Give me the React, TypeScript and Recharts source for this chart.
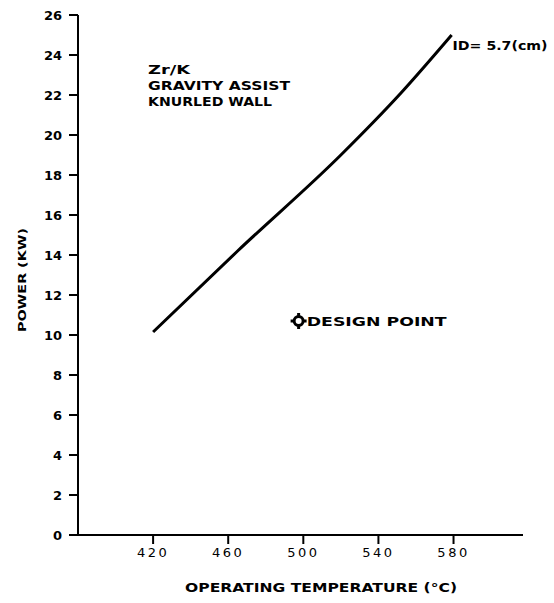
import {
  ComposedChart,
  Line,
  Scatter,
  XAxis,
  YAxis,
  ReferenceDot,
  Label,
} from "recharts";

const temps = [420, 465, 520, 552, 579];
const powers = [10.15, 14.2, 19.0, 22.1, 25.0];
const designTemp = [497.5];
const designPower = [10.7];
const xTicks = [420, 460, 500, 540, 580];
const yTicks = [0, 2, 4, 6, 8, 10, 12, 14, 16, 18, 20, 22, 24, 26];

const curve = temps.map((t, i) => ({ t, p: powers[i] }));
const design = designTemp.map((t, i) => ({ t, p: designPower[i] }));

const FONT = "'DejaVu Sans', sans-serif";

const DesignMarker = (props: any) => {
  const { cx, cy } = props;
  if (cx == null || cy == null) return null;
  return (
    <g stroke="#000" strokeWidth={3} fill="none">
      <circle cx={cx} cy={cy} r={4.5} fill="#fff" />
      <line x1={cx - 8} y1={cy} x2={cx - 4} y2={cy} />
      <line x1={cx + 4} y1={cy} x2={cx + 8} y2={cy} />
      <line x1={cx} y1={cy - 8} x2={cx} y2={cy - 4} />
      <line x1={cx} y1={cy + 4} x2={cx} y2={cy + 8} />
    </g>
  );
};

const textShape = (lines: string[], widths: number[], size: number) =>
  (props: any) => {
    const { cx, cy } = props;
    if (cx == null || cy == null) return null;
    return (
      <g>
        {lines.map((s, i) => (
          <text
            key={s}
            x={cx}
            y={cy + i * 16}
            fontFamily={FONT}
            fontWeight="bold"
            fontSize={size}
            fill="#000"
            textLength={widths[i]}
            lengthAdjust="spacingAndGlyphs"
            dominantBaseline="central"
          >
            {s}
          </text>
        ))}
      </g>
    );
  };

export default function App() {
  return (
    <div style={{ position: "absolute", left: 0, top: 0, background: "#fff" }}>
      <ComposedChart
        width={554}
        height={603}
        margin={{ top: 15, right: 31, left: 0, bottom: 0 }}
      >
        <XAxis
          dataKey="t"
          type="number"
          domain={[380, 617]}
          ticks={xTicks}
          allowDataOverflow
          height={68}
          stroke="#000"
          strokeWidth={2}
          tickSize={9}
          tickMargin={4}
          tick={{
            fill: "#000",
            fontSize: 13,
            fontFamily: FONT,
            letterSpacing: 2.5,
          }}
        >
          <Label
            content={({ viewBox }: any) => (
              <text
                x={321}
                y={588}
                textAnchor="middle"
                dominantBaseline="central"
                fontFamily={FONT}
                fontWeight="bold"
                fontSize={12}
                textLength={272}
                lengthAdjust="spacingAndGlyphs"
              >
                OPERATING TEMPERATURE (°C)
              </text>
            )}
          />
        </XAxis>
        <YAxis
          dataKey="p"
          type="number"
          domain={[0, 26]}
          ticks={yTicks}
          width={78}
          stroke="#000"
          strokeWidth={2}
          tickSize={9}
          tickMargin={7}
          tick={{
            fill: "#000",
            fontSize: 13,
            fontWeight: "bold",
            fontFamily: FONT,
          }}
        >
          <Label
            content={() => (
              <text
                x={22}
                y={280}
                textAnchor="middle"
                dominantBaseline="central"
                transform="rotate(-90 22 280)"
                fontFamily={FONT}
                fontWeight="bold"
                fontSize={11}
                textLength={104}
                lengthAdjust="spacingAndGlyphs"
              >
                POWER (KW)
              </text>
            )}
          />
        </YAxis>
        <Line
          data={curve}
          dataKey="p"
          type="monotone"
          stroke="#000"
          strokeWidth={3}
          dot={false}
          isAnimationActive={false}
        />
        <Scatter
          data={design}
          dataKey="p"
          shape={DesignMarker}
          isAnimationActive={false}
        />
        <ReferenceDot
          x={417.3}
          y={23.25}
          r={1}
          shape={textShape(
            ["Zr/K", "GRAVITY ASSIST", "KNURLED WALL"],
            [42, 142, 124],
            12
          )}
        />
        <ReferenceDot
          x={579.5}
          y={24.45}
          r={1}
          shape={textShape(["ID= 5.7(cm)"], [95], 12)}
        />
        <ReferenceDot
          x={501.8}
          y={10.65}
          r={1}
          shape={textShape(["DESIGN POINT"], [140], 12)}
        />
      </ComposedChart>
    </div>
  );
}
